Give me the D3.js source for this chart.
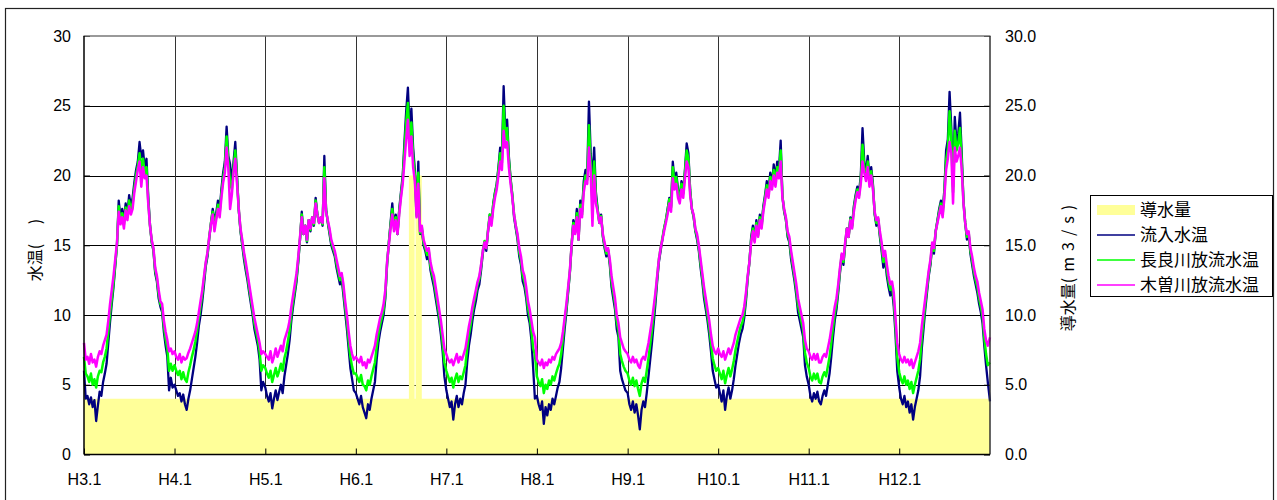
<!DOCTYPE html>
<html>
<head>
<meta charset="utf-8">
<script src="https://cdn.jsdelivr.net/npm/d3@7"></script>
<style>
  body { margin: 0; background: #fff; }
  svg { display: block; }
  .tick text { font-family: "Liberation Sans", Arial, sans-serif; font-size: 16px; fill: #000; }
  .jp { font-family: "Noto Sans CJK JP", "Noto Sans", sans-serif; fill: #000; }
</style>
</head>
<body>
<svg id="chart" width="1277" height="500"></svg>
<script>
// Year tick labels (Heisei era, January of each year)
const yearLabels = ["H3.1", "H4.1", "H5.1", "H6.1", "H7.1", "H8.1", "H9.1", "H10.1", "H11.1", "H12.1"];
const firstYear = 1991;

// Weekly water temperatures (°C): 52 readings per year, H3 to H12, plus 1 January H13
const inflowTemp = [ // 流入水温
  6.0,4.0,4.2,3.6,4.1,3.4,3.9,2.4,3.5,4.5,4.2,5.2,5.8,6.5,8.0,9.5,10.8,12.0,13.5,15.0,18.2,17.0,17.6,16.8,18.0,17.2,18.6,17.8,18.4,19.5,20.4,21.0,22.4,21.3,21.8,20.5,21.2,18.5,16.5,15.2,14.6,13.0,12.4,11.2,10.6,10.2,8.8,7.8,7.0,4.6,5.5,4.8,
  5.0,4.6,4.2,4.4,3.8,4.3,3.6,3.2,4.0,4.6,5.4,6.2,7.0,8.0,9.2,10.0,11.0,12.2,13.5,14.2,15.5,16.6,17.6,16.8,17.3,18.2,17.5,19.0,20.2,21.0,23.5,21.4,20.8,19.5,21.0,22.4,20.0,17.5,16.0,15.0,14.0,13.2,12.5,11.6,10.8,10.0,9.0,8.4,7.8,6.8,4.6,5.2,
  4.8,4.2,3.8,4.4,3.3,4.0,4.6,3.9,4.5,5.0,4.4,5.6,6.4,7.2,8.2,9.6,10.6,11.5,12.4,13.8,15.4,17.4,15.8,16.4,15.2,16.8,16.0,17.0,16.4,18.4,17.2,16.6,17.0,16.4,21.4,17.6,16.6,15.8,15.0,14.6,14.2,13.4,12.8,12.2,12.6,11.4,10.2,9.0,7.6,6.2,5.4,4.6,
  4.4,4.0,3.6,4.2,3.4,3.0,2.6,3.6,3.2,4.0,4.6,5.2,6.8,8.0,8.8,9.4,10.0,11.2,13.6,15.2,16.6,18.0,16.4,17.2,15.8,17.6,18.8,20.0,22.4,24.6,26.3,23.2,24.8,22.0,20.4,17.2,21.0,15.8,16.2,15.0,14.6,14.0,14.4,13.2,12.6,12.0,11.2,10.4,9.6,8.6,7.4,5.6,
  4.6,4.0,3.4,3.8,2.5,3.6,4.2,3.4,4.0,3.6,4.4,5.0,6.6,7.8,8.6,9.6,10.4,11.0,11.8,12.2,13.2,14.4,15.2,14.6,16.0,17.2,16.6,18.0,18.8,19.4,20.6,22.0,21.2,26.4,23.0,24.0,21.4,19.8,18.6,17.0,16.2,15.4,14.2,13.6,12.4,12.0,11.2,10.0,9.4,8.2,6.2,4.0,
  4.2,3.6,3.2,3.8,2.2,3.4,2.8,3.6,3.2,4.0,3.6,4.2,4.8,5.2,6.2,7.6,9.0,10.2,11.6,13.0,15.0,16.8,16.0,17.6,15.4,18.2,17.4,19.6,20.4,20.0,25.3,21.6,19.6,22.0,18.8,17.6,16.6,17.2,15.6,14.8,14.2,14.6,13.6,12.0,11.2,10.4,9.0,8.4,6.0,5.4,5.0,4.6,
  4.4,3.6,3.2,3.8,3.0,3.6,2.8,1.8,3.2,3.8,3.4,4.4,5.6,6.8,8.0,9.4,10.8,12.4,13.8,14.6,15.4,16.2,16.8,17.6,18.4,17.8,21.0,19.6,20.2,19.0,18.4,19.6,18.8,20.4,22.3,21.6,19.0,17.6,17.0,16.0,15.4,14.6,13.4,12.4,11.2,10.4,9.6,8.6,7.4,6.0,5.4,4.8,
  5.0,4.4,3.8,4.6,3.2,4.2,4.8,4.0,4.6,5.4,6.4,7.2,8.0,8.6,9.0,9.8,11.0,12.6,13.8,15.6,16.4,15.4,16.8,15.8,17.2,16.4,17.8,18.6,19.6,18.8,20.2,19.4,20.8,19.8,21.0,20.4,22.5,18.6,17.4,16.8,15.6,15.2,14.0,13.2,12.4,11.4,10.2,9.6,9.0,8.4,6.4,5.6,
  5.0,4.2,3.8,4.4,4.0,4.5,3.8,3.6,4.2,4.6,4.2,5.0,5.8,7.0,8.4,9.6,10.4,11.6,13.0,14.2,13.6,15.0,16.2,15.6,17.0,16.4,17.8,18.6,19.2,18.8,20.0,23.4,21.0,20.2,21.4,19.8,20.6,19.4,17.2,16.4,16.8,15.6,14.6,13.4,14.0,12.8,12.0,11.4,11.8,10.6,8.6,6.0,
  4.8,4.0,3.6,4.2,3.4,3.8,3.0,3.6,2.5,3.4,4.0,4.6,5.6,7.6,9.0,10.4,11.6,12.8,13.6,15.0,14.4,16.0,16.8,17.6,18.2,17.4,19.0,21.8,22.6,26.0,23.4,19.2,24.2,22.4,23.0,24.5,21.6,18.2,16.6,15.4,15.8,14.4,13.6,12.8,12.2,11.6,10.8,10.2,9.4,7.8,6.4,5.2,
  3.8
];

const nagaraTemp = [ // 長良川放流水温
  7.0,5.8,5.6,5.2,5.8,5.0,5.4,4.8,5.6,6.0,5.9,6.6,7.0,7.6,8.8,10.1,11.2,12.3,13.7,15.0,17.8,16.7,17.3,16.5,17.7,17.0,18.2,17.5,18.0,19.1,20.0,20.7,21.6,20.4,21.2,20.1,20.6,18.2,16.4,15.3,14.7,13.2,12.6,11.5,10.8,10.5,9.2,8.3,7.6,6.0,6.5,6.0,
  6.4,6.0,5.7,6.0,5.4,5.9,5.4,5.2,5.9,6.4,7.0,7.5,8.1,8.9,9.8,10.6,11.5,12.6,13.7,14.4,15.6,16.6,17.4,16.5,17.0,17.9,17.3,18.7,19.8,20.6,22.8,21.0,19.5,19.0,20.6,21.8,19.7,17.6,16.1,15.2,14.3,13.5,12.8,11.9,11.1,10.3,9.4,8.8,8.2,7.4,6.0,6.4,
  6.2,5.8,5.5,6.0,5.2,5.7,6.2,5.6,6.0,6.5,6.0,6.9,7.4,8.1,8.9,10.1,11.0,11.8,12.7,14.0,15.5,17.2,15.8,16.4,15.3,16.8,16.1,17.0,16.5,18.2,17.2,16.6,17.0,16.5,20.6,17.5,16.7,16.0,15.2,14.8,14.4,13.7,13.1,12.5,12.8,11.8,10.6,9.5,8.2,7.0,6.3,5.8,
  5.8,5.5,5.2,5.7,5.0,4.9,4.6,5.3,5.0,5.6,6.1,6.6,7.7,8.6,9.3,9.8,10.4,11.5,13.7,15.1,16.4,17.6,16.2,17.0,15.8,17.4,18.6,19.7,21.8,23.8,25.2,22.4,23.8,21.4,20.0,17.1,20.2,15.9,16.3,15.2,14.8,14.3,14.6,13.5,12.9,12.4,11.6,10.8,10.0,9.1,8.0,6.6,
  6.0,5.6,5.2,5.5,4.8,5.4,5.8,5.2,5.6,5.4,5.9,6.4,7.6,8.6,9.3,10.2,10.9,11.5,12.2,12.6,13.5,14.6,15.3,14.8,16.1,17.2,16.6,17.9,18.7,19.3,20.4,21.6,20.9,25.0,22.6,23.4,21.1,19.7,18.6,17.2,16.4,15.6,14.5,13.9,12.8,12.4,11.6,10.5,9.9,8.9,7.6,7.2,
  5.6,5.2,4.9,5.4,4.4,5.0,4.7,5.3,5.0,5.6,5.3,5.8,6.2,6.5,7.2,8.3,9.5,10.5,11.8,13.1,15.0,16.6,15.9,17.3,15.4,17.9,17.2,19.2,20.0,19.7,23.6,20.9,18.0,21.0,18.4,17.5,16.6,17.1,15.7,15.0,14.4,14.7,13.8,12.4,11.6,10.8,9.5,8.9,7.2,6.7,6.3,6.0,
  5.8,5.3,5.0,5.5,4.9,5.3,4.7,4.2,5.1,5.5,5.2,6.0,6.9,7.9,8.9,10.1,11.3,12.7,14.0,14.8,15.5,16.2,16.8,17.5,18.3,17.7,20.6,19.4,19.9,18.8,18.3,19.4,18.7,20.2,21.8,21.2,18.9,17.6,17.1,16.1,15.6,14.8,13.7,12.7,11.6,10.8,10.0,9.1,8.0,6.9,6.4,6.0,
  6.2,5.8,5.4,6.0,5.1,5.7,6.2,5.6,6.1,6.7,7.5,8.1,8.7,9.2,9.5,10.2,11.3,12.7,13.8,15.4,16.2,15.3,16.6,15.7,17.0,16.3,17.6,18.4,19.3,18.6,19.9,19.2,20.4,19.5,20.6,20.1,21.8,18.5,17.5,16.9,15.8,15.4,14.3,13.5,12.7,11.8,10.7,10.1,9.5,8.9,7.3,6.6,
  6.2,5.6,5.3,5.8,5.4,5.8,5.2,5.1,5.6,5.9,5.6,6.3,7.0,8.0,9.1,10.1,10.8,11.9,13.2,14.3,13.8,15.1,16.2,15.6,16.9,16.3,17.6,18.4,19.0,18.6,19.7,22.2,20.6,19.9,21.0,19.5,20.3,19.2,17.3,16.6,16.9,15.8,14.9,13.8,14.3,13.2,12.4,11.8,12.1,11.1,9.2,7.0,
  5.9,5.4,5.1,5.6,5.0,5.3,4.7,5.2,4.4,5.0,5.5,6.0,6.8,8.4,9.6,10.8,11.9,13.0,13.8,15.1,14.6,16.0,16.7,17.4,18.0,17.2,18.7,21.1,21.9,24.6,22.6,18.8,23.2,21.8,22.3,23.4,21.0,18.1,16.6,15.6,15.9,14.6,13.9,13.1,12.5,12.0,11.2,10.6,9.9,8.4,7.2,6.4,
  6.6
];

const kisoTemp = [ // 木曽川放流水温
  8.0,6.8,7.0,6.5,7.2,6.6,6.8,6.3,7.0,7.4,7.2,7.8,8.2,8.6,9.6,10.8,11.8,12.8,14.0,15.2,17.4,16.5,17.0,16.2,17.5,16.8,17.8,17.2,17.6,18.8,19.6,20.4,21.0,19.2,20.6,19.8,20.0,18.0,16.4,15.4,14.8,13.4,12.8,11.8,11.0,10.8,9.6,8.8,8.2,7.4,7.6,7.2,
  7.4,7.0,6.8,7.2,6.6,7.0,6.8,6.9,7.3,7.6,8.0,8.4,8.8,9.4,10.2,11.0,11.8,12.8,13.8,14.5,15.6,16.5,17.2,16.0,16.8,17.6,17.0,18.4,19.5,20.2,22.0,20.5,17.6,18.6,20.2,21.2,19.4,17.6,16.2,15.4,14.5,13.8,13.0,12.2,11.4,10.6,9.8,9.2,8.6,8.0,7.2,7.4,
  7.2,7.0,6.8,7.4,6.6,7.0,7.6,7.0,7.4,7.8,7.4,8.2,8.6,9.0,9.6,10.6,11.4,12.2,13.0,14.2,15.6,17.0,15.8,16.4,15.4,16.8,16.2,17.0,16.6,18.0,17.2,16.6,17.0,16.6,19.8,17.4,16.8,16.2,15.4,15.0,14.6,14.0,13.4,12.8,13.0,12.2,11.0,10.0,8.8,7.8,7.2,6.8,
  7.0,6.8,6.6,7.0,6.4,6.6,6.2,6.8,6.6,7.0,7.4,7.8,8.6,9.2,9.8,10.2,10.8,11.8,13.8,15.0,16.2,17.2,16.0,16.8,15.8,17.2,18.4,19.4,21.0,22.6,24.0,21.4,22.8,20.6,19.6,17.0,19.4,16.0,16.4,15.4,15.0,14.6,14.8,13.8,13.2,12.8,12.0,11.2,10.4,9.6,8.6,7.6,
  7.2,6.8,6.6,6.8,6.4,6.8,7.2,6.6,7.0,6.8,7.2,7.6,8.4,9.2,9.8,10.6,11.2,11.8,12.4,12.8,13.6,14.6,15.2,14.8,16.0,17.0,16.4,17.6,18.4,19.0,20.0,21.0,20.4,23.2,22.0,22.4,20.6,19.4,18.4,17.2,16.4,15.8,14.8,14.2,13.2,12.8,12.0,11.0,10.4,9.6,8.8,8.4,
  6.8,6.6,6.4,6.8,6.2,6.6,6.4,6.8,6.6,7.0,6.8,7.2,7.4,7.6,8.0,8.8,9.8,10.8,12.0,13.2,15.0,16.4,15.8,17.0,15.4,17.6,17.0,18.8,19.6,19.4,22.0,20.2,16.4,20.0,18.0,17.4,16.6,17.0,15.8,15.2,14.6,14.8,14.0,12.8,12.0,11.2,10.0,9.4,8.4,8.0,7.6,7.4,
  7.2,6.8,6.6,7.0,6.6,6.8,6.4,6.2,6.8,7.0,6.8,7.4,8.0,8.8,9.6,10.6,11.6,12.8,14.0,14.8,15.4,16.0,16.6,17.2,18.0,17.4,19.8,19.0,19.4,18.4,18.0,19.0,18.4,19.8,21.0,20.6,18.6,17.6,17.2,16.2,15.8,15.0,14.0,13.0,12.0,11.2,10.4,9.6,8.6,7.8,7.4,7.2,
  7.6,7.2,7.0,7.4,6.8,7.2,7.6,7.2,7.6,8.0,8.6,9.0,9.4,9.8,10.0,10.6,11.6,12.8,13.8,15.2,16.0,15.2,16.4,15.6,16.8,16.2,17.4,18.2,19.0,18.4,19.6,19.0,20.0,19.2,20.2,19.8,21.0,18.4,17.6,17.0,16.0,15.6,14.6,13.8,13.0,12.2,11.2,10.6,10.0,9.4,8.2,7.6,
  7.4,7.0,6.8,7.2,6.8,7.2,6.6,6.6,7.0,7.2,7.0,7.6,8.2,9.0,9.8,10.6,11.2,12.2,13.4,14.4,14.0,15.2,16.2,15.6,16.8,16.2,17.4,18.2,18.8,18.4,19.4,21.0,20.2,19.6,20.6,19.2,20.0,19.0,17.4,16.8,17.0,16.0,15.2,14.2,14.6,13.6,12.8,12.2,12.4,11.6,9.8,8.0,
  7.2,6.8,6.6,7.0,6.6,6.8,6.4,6.8,6.2,6.6,7.0,7.4,8.0,9.2,10.2,11.2,12.2,13.2,14.0,15.2,14.8,16.0,16.6,17.2,17.8,17.0,18.4,20.4,21.2,22.4,21.6,18.0,22.0,21.0,21.4,22.0,20.4,18.0,16.6,15.8,16.0,14.8,14.2,13.4,12.8,12.4,11.6,11.0,10.4,9.0,8.2,7.8,
  8.4
];

// Diversion discharge (m3/s): value held from each date until the next
const flowDates = ["1991-01-01", "1994-08-03", "1994-08-26", "1994-08-30", "1994-09-24", "2001-01-01"];
const flowValues = [4.0, 20.0, 4.0, 20.0, 4.0, 4.0];

const legendItems = [
  { label: "導水量", color: "#ffff99", kind: "area" },
  { label: "流入水温", color: "#000080", kind: "line" },
  { label: "長良川放流水温", color: "#00ff00", kind: "line" },
  { label: "木曽川放流水温", color: "#ff00ff", kind: "line" }
];

// ---- layout ----
const plot = { left: 84, right: 990, top: 36, bottom: 454.5 };

const svg = d3.select("#chart");

// outer frame of the chart object
svg.append("rect")
  .attr("x", 5.5).attr("y", 8.5).attr("width", 1268).attr("height", 520)
  .attr("fill", "none").attr("stroke", "#222").attr("stroke-width", 1.2);

const x = d3.scaleUtc()
  .domain([Date.UTC(firstYear, 0, 1), Date.UTC(firstYear + 10, 0, 1)])
  .range([plot.left, plot.right]);
const yTemp = d3.scaleLinear().domain([0, 30]).range([plot.bottom, plot.top]);
const yFlow = d3.scaleLinear().domain([0, 30]).range([plot.bottom, plot.top]);

// sample date for weekly reading j: week (j % 52) of year firstYear + floor(j / 52)
const sampleDate = j => new Date(Date.UTC(firstYear + Math.floor(j / 52), 0, 1 + 7 * (j % 52)));
const yearTicks = yearLabels.map((_, i) => new Date(Date.UTC(firstYear + i, 0, 1)));

// ---- grid ----
const grid = svg.append("g");
[5, 10, 15, 20, 25].forEach(v => {
  const yy = Math.round(yTemp(v)) + 0.5;
  grid.append("line").attr("x1", plot.left).attr("x2", plot.right)
    .attr("y1", yy).attr("y2", yy).attr("stroke", "#000").attr("stroke-width", 1);
});
yearTicks.slice(1).forEach(d => {
  const xx = Math.round(x(d)) + 0.5;
  grid.append("line").attr("x1", xx).attr("x2", xx)
    .attr("y1", plot.top).attr("y2", plot.bottom).attr("stroke", "#333").attr("stroke-width", 1);
});

// ---- diversion discharge area ----
const flowData = flowDates.map((d, i) => ({ date: new Date(d + "T00:00:00Z"), value: flowValues[i] }));
svg.append("path")
  .datum(flowData)
  .attr("fill", "#ffff99")
  .attr("d", d3.area().curve(d3.curveStepAfter)
    .x(d => x(d.date)).y0(plot.bottom).y1(d => yFlow(d.value)));

// ---- temperature lines ----
const lineGen = d3.line().x((d, j) => x(sampleDate(j))).y(d => yTemp(d));
[[inflowTemp, "#000080", 2.3], [nagaraTemp, "#00ff00", 2.5], [kisoTemp, "#ff00ff", 2.5]].forEach(([series, color, w]) => {
  svg.append("path").datum(series)
    .attr("fill", "none").attr("stroke", color).attr("stroke-width", w)
    .attr("stroke-linejoin", "round").attr("d", lineGen);
});

// ---- axes ----
const axL = svg.append("g").attr("transform", `translate(${plot.left},0)`)
  .call(d3.axisLeft(yTemp).tickValues([0, 5, 10, 15, 20, 25, 30]).tickSize(-6).tickPadding(13));
const axR = svg.append("g").attr("transform", `translate(${plot.right},0)`)
  .call(d3.axisRight(yFlow).tickValues([0, 5, 10, 15, 20, 25, 30]).tickFormat(d3.format(".1f")).tickSize(-6).tickPadding(15));
const axB = svg.append("g").attr("transform", `translate(0,${plot.bottom})`)
  .call(d3.axisBottom(x).tickValues(yearTicks).tickFormat((d, i) => yearLabels[i]).tickSize(-6).tickPadding(19));
[axL, axR, axB].forEach(g => {
  g.select(".domain").remove();
  g.selectAll(".tick line").attr("stroke", "#000");
});

// plot frame
svg.append("line").attr("x1", plot.left - 0.5).attr("x2", plot.right + 0.5).attr("y1", plot.top).attr("y2", plot.top)
  .attr("stroke", "#777").attr("stroke-width", 1.5);
svg.append("line").attr("x1", plot.left).attr("x2", plot.left).attr("y1", plot.top).attr("y2", plot.bottom)
  .attr("stroke", "#000").attr("stroke-width", 1.5);
svg.append("line").attr("x1", plot.right).attr("x2", plot.right).attr("y1", plot.top).attr("y2", plot.bottom)
  .attr("stroke", "#333").attr("stroke-width", 1.5);
svg.append("line").attr("x1", plot.left).attr("x2", plot.right).attr("y1", plot.bottom).attr("y2", plot.bottom)
  .attr("stroke", "#000").attr("stroke-width", 1.5);

// ---- axis titles ----
svg.append("text").attr("class", "jp")
  .attr("transform", "translate(41,250) rotate(-90)")
  .attr("text-anchor", "middle").attr("font-size", 16)
  .text("水温(　 )");
const rTitle = svg.append("text").attr("class", "jp")
  .attr("transform", "translate(1074,265) rotate(-90)")
  .attr("text-anchor", "middle").attr("font-size", 16);
rTitle.append("tspan").text("導水量");
rTitle.append("tspan").attr("letter-spacing", 6).text("(m3/s)");

// ---- legend ----
const lg = svg.append("g");
lg.append("rect").attr("x", 1090.5).attr("y", 195.5).attr("width", 182).attr("height", 101)
  .attr("fill", "#fff").attr("stroke", "#000").attr("stroke-width", 1);
legendItems.forEach((item, i) => {
  const cy = 210 + i * 25;
  if (item.kind === "area") {
    lg.append("rect").attr("x", 1097).attr("y", cy - 5).attr("width", 38).attr("height", 10).attr("fill", item.color);
  } else {
    lg.append("line").attr("x1", 1097).attr("x2", 1135).attr("y1", cy).attr("y2", cy)
      .attr("stroke", item.color).attr("stroke-width", 1.5);
  }
  lg.append("text").attr("class", "jp").attr("x", 1140).attr("y", cy)
    .attr("dy", "0.36em").attr("font-size", 17).text(item.label);
});
</script>
</body>
</html>
